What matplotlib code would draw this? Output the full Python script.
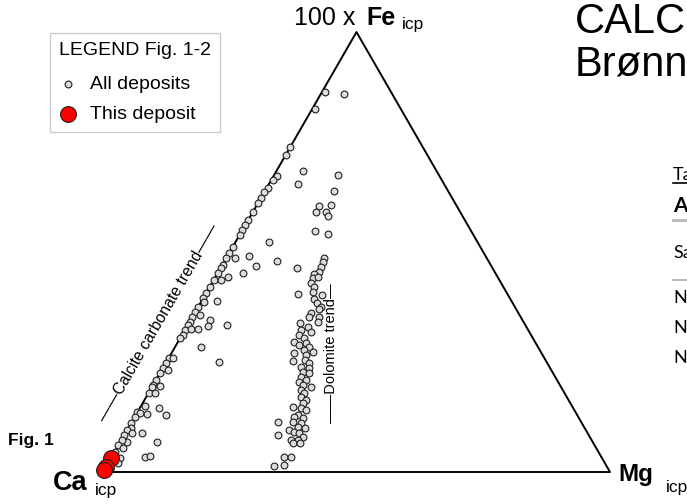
import numpy as np
import matplotlib
matplotlib.use("Agg")
from matplotlib import pyplot as plt
from matplotlib.lines import Line2D

plt.rcParams['font.family'] = ['Liberation Sans', 'DejaVu Sans']

# all deposits, 100 x Fe and Mg in percent of (Ca + Mg + 100 x Fe)
calc_fe = [86.4, 85.9, 82.5, 73.9, 72.1, 67.3, 66.4, 68.4, 65.5, 67.6, 63.9, 64.6, 63.6, 62.3,
           61.2, 59.1, 57.3, 56.1, 55.0, 53.9, 51.2, 49.8, 48.6, 48.6, 47.1, 46.4, 45.3, 44.3,
           43.7, 43.7, 42.0, 38.9, 40.7, 39.6, 38.7, 37.5, 36.4, 35.7, 35.2, 34.1, 34.5, 33.4,
           33.2, 33.4, 32.3, 32.6, 32.6, 31.2, 30.5, 28.4, 25.1, 25.9, 25.8, 24.8, 23.7, 23.2,
           22.5, 20.9, 19.8, 19.5, 52.3, 49.1, 46.9, 47.9, 46.4, 40.4, 45.3, 19.3, 18.0, 18.0,
           15.0, 14.6, 13.0, 13.2, 13.6, 13.4, 12.5, 11.2, 10.1, 9.6, 8.4, 8.9, 8.9, 6.8, 7.3,
           6.1, 5.4, 6.8, 4.6, 3.2, 3.5, 3.7, 2.1, 3.9, 2.8]
calc_mg = [0.5, 4.5, 0.6, 0.0, 0.1, 0.7, 0.3, 5.3, 5.7, 12.5, 13.6, 0.2, 0.0, 0.0,
           0.0, 0.0, 0.0, 0.0, 0.0, 0.0, 0.0, 0.0, 0.0, 1.8, 0.1, 0.0, 0.0, 2.6,
           1.4, 0.0, 0.2, 3.0, 0.0, 0.0, 0.6, 0.0, 0.0, 1.3, 0.0, 0.2, 3.9, 0.0,
           4.2, 7.7, 0.1, 1.0, 2.4, 0.1, 0.0, 5.2, 10.3, 0.0, 0.9, 0.0, 0.0, 1.3,
           0.0, 0.0, 0.0, 1.5, 6.6, 4.2, 6.7, 10.3, 15.1, 18.3, 4.9, 0.0, 0.0, 1.3,
           0.8, 3.8, 6.0, 2.1, 0.0, 0.6, 0.0, 0.0, 0.4, 0.0, 0.0, 1.3, 3.3, 1.3, 0.0,
           0.0, 1.2, 7.3, 0.1, 1.8, 6.6, 7.5, 1.9, 0.0, 0.0]

dolo_fe = [60.5, 60.7, 59.1, 59.1, 58.2, 54.7, 54.2, 48.6, 47.7, 46.7, 45.5, 45.0, 44.1, 44.3,
           43.0, 42.0, 40.9, 40.2, 39.4, 38.5, 37.5, 37.1, 36.2, 35.2, 35.2, 34.1, 33.8, 32.3,
           33.0, 31.9, 31.2, 30.5, 29.6, 29.3, 28.9, 28.4, 27.7, 27.3, 27.0, 26.6, 25.3, 25.5,
           24.8, 23.9, 23.7, 22.8, 22.5, 21.6, 20.9, 20.5, 19.8, 19.3, 18.7, 18.0, 17.1, 16.4,
           15.7, 14.8, 14.6, 14.1, 13.0, 12.5, 12.3, 11.4, 11.4, 11.2, 10.3, 10.1, 9.6, 9.1,
           8.9, 8.4, 8.0, 7.3, 7.3, 6.6, 6.6, 3.5, 3.5, 1.4, 1.6]
dolo_mg = [12.4, 14.7, 12.5, 14.5, 15.3, 14.5, 17.2, 19.3, 19.6, 19.7, 19.9, 19.1, 19.4, 20.3,
           19.6, 20.7, 21.0, 23.0, 22.0, 22.9, 24.2, 24.1, 23.0, 23.0, 25.0, 25.4, 21.9, 22.9,
           24.0, 25.1, 23.1, 24.4, 22.9, 25.4, 24.2, 26.5, 25.8, 27.8, 24.2, 26.8, 24.9, 27.0,
           28.3, 27.2, 28.7, 28.1, 29.4, 28.2, 29.6, 28.4, 29.6, 31.4, 29.7, 30.7, 30.5, 31.9,
           31.6, 30.1, 31.8, 33.0, 32.0, 31.5, 33.3, 31.8, 28.9, 33.5, 33.4, 34.7, 31.8, 33.2,
           34.3, 30.3, 35.5, 33.4, 34.8, 34.1, 35.5, 34.0, 35.4, 33.0, 34.9]

# this deposit
this_fe = [3.2, 1.1, 0.4]
this_mg = [0.0, 0.0, 0.0]

# visible parts of the page text around the figure
title_lines = ['CALC', 'Brønn']
table_rows = ['Ta', 'A', 'Sa', 'N', 'N', 'N']

all_fe = np.array(calc_fe + dolo_fe) / 100
all_mg = np.array(calc_mg + dolo_mg) / 100
this_fe = np.array(this_fe) / 100
this_mg = np.array(this_mg) / 100

H = np.sqrt(3) / 2


def tern(fe, mg):
    return mg + fe / 2, fe * H


W, HT = 687, 504
fig = plt.figure(figsize=(W / 100, HT / 100), dpi=100)
ax = fig.add_axes([0, 0, 1, 1])
ax.set_xlim(-103 / 507, (W - 103) / 507)
ax.set_ylim(-(HT - 472) / 508, 472 / 508)
ax.axis('off')


def fx(px):
    return px / W


def fy(py):
    return 1 - py / HT


# triangle
ax.plot([0, 1, 0.5, 0], [0, 0, H, 0], color='black', lw=1.4, zorder=1)

x, y = tern(all_fe, all_mg)
sc1 = ax.scatter(x, y, s=24, facecolor='#dcdcdc', edgecolor='#202020', linewidths=0.8,
                 zorder=3, label='All deposits')
x, y = tern(this_fe, this_mg)
sc2 = ax.scatter(x, y, s=130, facecolor='#ff0000', edgecolor='#202020', linewidths=0.8,
                 zorder=4, clip_on=False, label='This deposit')

leg = ax.legend(handles=[sc1, sc2], title='LEGEND Fig. 1-2', loc='upper left',
                bbox_to_anchor=(fx(50), fy(33)), bbox_transform=fig.transFigure,
                borderaxespad=0, fontsize=14, title_fontsize=14, alignment='left',
                fancybox=False, framealpha=1, edgecolor='#cccccc', borderpad=0.45,
                labelspacing=0.62, handlelength=1.0, handletextpad=0.6)
leg.get_frame().set_linewidth(1.0)
# a bit more room under the legend title
leg._legend_box.sep = 0.62 * 14 + 3.5

# trend labels
fig.text(fx(159), fy(323), '\u2014\u2014Calcite carbonate trend\u2014\u2014', fontsize=11.3,
         rotation=60, ha='center', va='center', rotation_mode='anchor')
fig.text(fx(331), fy(353), '\u2014\u2014Dolomite trend\u2014', fontsize=10.5,
         rotation=90, ha='center', va='center', rotation_mode='anchor')

# apex labels
fig.text(fx(294), fy(25), '100 x', fontsize=18, va='baseline')
fig.text(fx(366), fy(25), 'Fe', fontsize=18, fontweight='bold', va='baseline')
fig.text(fx(402), fy(29), 'icp', fontsize=12.5, va='baseline')
fig.text(fx(53), fy(490), 'Ca', fontsize=19.5, fontweight='bold', va='baseline')
fig.text(fx(95), fy(495), 'icp', fontsize=12.5, va='baseline')
fig.text(fx(618), fy(481), 'Mg', fontsize=17.5, fontweight='bold', va='baseline')
fig.text(fx(666), fy(492), 'icp', fontsize=12.5, va='baseline')
fig.text(fx(8), fy(445), 'Fig. 1', fontsize=12.5, fontweight='bold', va='baseline')

# page title (cut by the page edge)
fig.text(fx(575), fy(33), title_lines[0], fontsize=30, va='baseline')
fig.text(fx(575), fy(75), title_lines[1], fontsize=30, va='baseline')

# table at the right edge
tf = ['Lato', 'DejaVu Sans']
row_y = [180, 212, 258, 303, 333, 363]
row_size = [13, 15, 13, 13, 13, 13]
for txt, yy, fs in zip(table_rows, row_y, row_size):
    fig.text(fx(673), fy(yy), txt, fontsize=fs, family=tf, va='baseline',
             fontweight='bold' if txt == 'A' else 'normal')
fig.add_artist(Line2D([fx(673), 1], [fy(183), fy(183)], color='black', lw=1.2))
fig.add_artist(Line2D([fx(673), 1], [fy(220), fy(220)], color='#bbbbbb', lw=2.2))
fig.add_artist(Line2D([fx(673), 1], [fy(280), fy(280)], color='#bbbbbb', lw=1.5))

fig.savefig('out.png', dpi=100)
